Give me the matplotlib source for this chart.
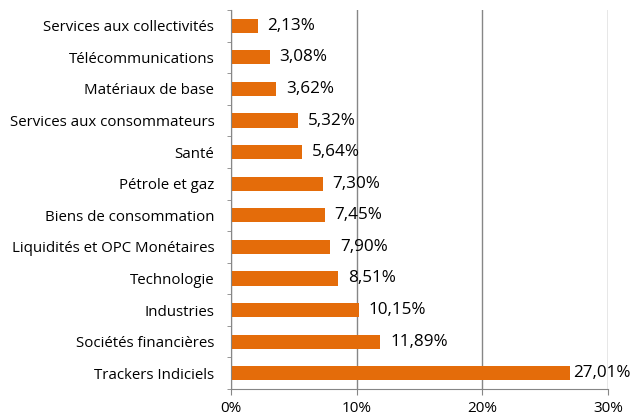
import matplotlib.pyplot as plt
import matplotlib.ticker as ticker
import numpy as np

plt.rcParams['font.family'] = ['Open Sans', 'DejaVu Sans']

categories = [
    "Trackers Indiciels",
    "Sociétés financières",
    "Industries",
    "Technologie",
    "Liquidités et OPC Monétaires",
    "Biens de consommation",
    "Pétrole et gaz",
    "Santé",
    "Services aux consommateurs",
    "Matériaux de base",
    "Télécommunications",
    "Services aux collectivités",
]
values = [27.01, 11.89, 10.15, 8.51, 7.90, 7.45, 7.30, 5.64, 5.32, 3.62, 3.08, 2.13]
xticks = [0, 10, 20, 30]

fig = plt.figure(figsize=(6.33, 4.18), dpi=100)
ax = fig.add_axes([231 / 633, 1 - 389 / 418, 377 / 633, 379 / 418])

y = np.arange(len(categories))
ax.barh(y, values, height=0.45, color='#E46C0A', zorder=3)
for yi, v in zip(y, values):
    # Excel pulls the widest label back in so it stays inside the chart
    off = 2 if v > 25 else 7
    ax.annotate(f"{v:.2f}%".replace('.', ','), (v, yi), xytext=(off, 0),
                textcoords='offset points', va='center', ha='left',
                fontsize=12.3, color='black', zorder=4)

ax.set_xlim(0, 30)
ax.set_ylim(-0.5, len(categories) - 0.5)
ax.set_xticks(xticks)
ax.xaxis.set_major_formatter(ticker.FuncFormatter(lambda x, p: f"{x:.0f}%"))
ax.set_yticks(y)
ax.set_yticklabels(categories)
ax.yaxis.set_minor_locator(ticker.FixedLocator(np.arange(-0.5, len(categories), 1)))
ax.tick_params(axis='y', which='major', length=0, pad=12, labelsize=10.8)
ax.tick_params(axis='y', which='minor', length=3, color='#868686', direction='out')
ax.tick_params(axis='x', length=4, color='#868686', direction='out', labelsize=11, pad=5)

ax.grid(axis='x', color='#868686', linewidth=1, zorder=0)
for s in ['top', 'right']:
    ax.spines[s].set_visible(False)
for s in ['left', 'bottom']:
    ax.spines[s].set_color('#868686')
    ax.spines[s].set_zorder(5)

fig.savefig('out.png', dpi=100)
